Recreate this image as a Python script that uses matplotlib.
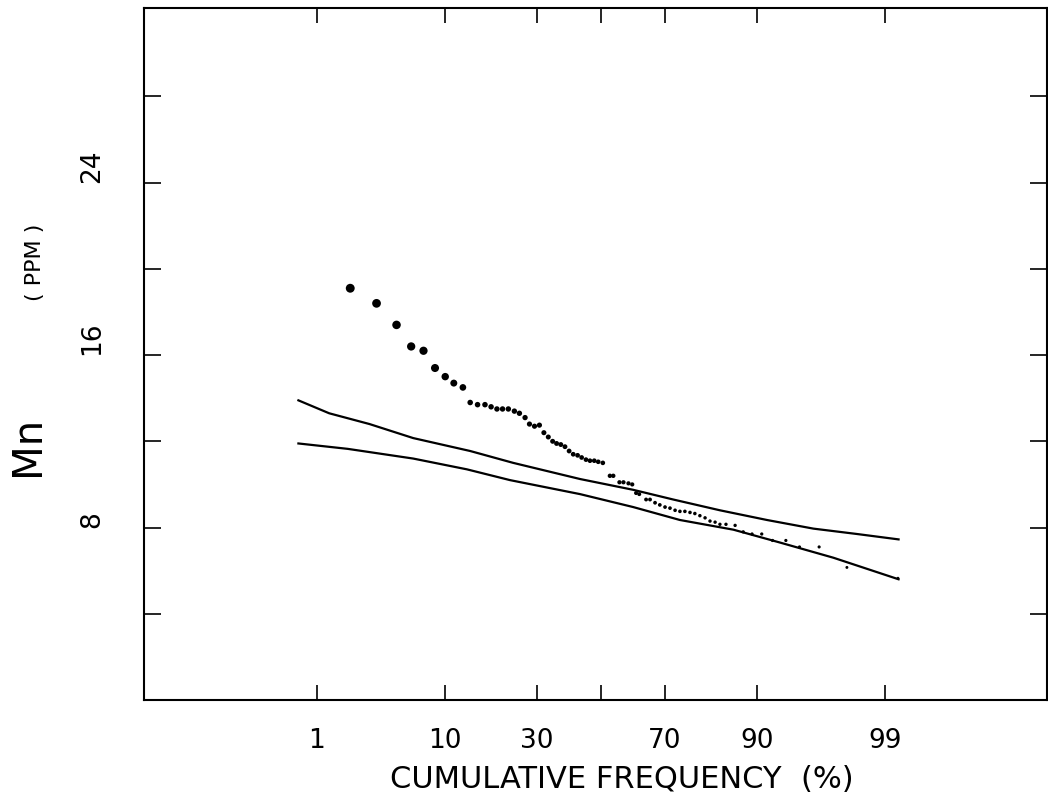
from statistics import NormalDist
import numpy as np
import matplotlib
matplotlib.use("Agg")
import matplotlib.pyplot as plt

# cumulative frequency (%) and Mn (ppm) of the plotted samples
cum_freq = [2.0, 3.3, 4.7, 6.0, 7.3, 8.7, 10.1, 11.4, 12.9, 14.2,
            15.6, 17.1, 18.4, 19.7, 21.0, 22.4, 23.9, 25.2, 26.7, 27.9,
            29.3, 30.7, 32.0, 33.3, 34.6, 35.8, 37.1, 38.4, 39.7, 41.0,
            42.4, 43.7, 45.1, 46.4, 47.8, 49.1, 50.6, 52.9, 54.0, 56.0,
            57.3, 58.9, 60.1, 61.3, 62.3, 64.4, 65.6, 67.1, 68.5, 70.0,
            71.4, 72.8, 74.1, 75.4, 76.7, 77.9, 79.1, 80.3, 81.4, 82.5,
            83.5, 84.7, 86.4, 87.8, 89.2, 90.6, 92.0, 93.5, 94.8, 96.3,
            97.8, 99.25]
mn_ppm = [19.1, 18.4, 17.4, 16.4, 16.2, 15.4, 15.0, 14.7, 14.5, 13.8,
          13.7, 13.7, 13.6, 13.5, 13.5, 13.5, 13.4, 13.3, 13.1, 12.8,
          12.7, 12.75, 12.4, 12.2, 12.0, 11.9, 11.85, 11.75, 11.55, 11.4,
          11.35, 11.25, 11.15, 11.1, 11.1, 11.05, 11.0, 10.4, 10.4, 10.1,
          10.1, 10.05, 10.0, 9.6, 9.55, 9.3, 9.3, 9.15, 9.05, 8.95,
          8.9, 8.8, 8.75, 8.75, 8.7, 8.65, 8.55, 8.45, 8.3, 8.25,
          8.15, 8.15, 8.1, 7.8, 7.7, 7.7, 7.4, 7.4, 7.1, 7.1,
          6.15, 5.65]

# the two reference curves
upper_freq = [0.66, 1.3, 2.9, 6.2, 14.2, 23.6, 43.2, 60.4, 72.3, 83.5, 91.3, 95.9, 98.2, 99.26]
upper_ppm = [13.9, 13.3, 12.8, 12.15, 11.55, 11.0, 10.25, 9.75, 9.3, 8.8, 8.35, 7.95, 7.7, 7.45]
lower_freq = [0.66, 1.9, 6.2, 13.6, 22.8, 43.2, 60.4, 74.1, 86.1, 92.9, 97.15, 99.26]
lower_ppm = [11.9, 11.65, 11.2, 10.7, 10.2, 9.55, 8.95, 8.35, 7.9, 7.3, 6.6, 5.6]

freq_ticks = [1, 10, 30, 50, 70, 90, 99]
freq_labels = ['1', '10', '30', '', '70', '90', '99']
ppm_ticks = [4, 8, 12, 16, 20, 24, 28]
ppm_labels = ['', '8', '', '16', '', '24', '']


def probit(pct):
    # probability-paper position of a cumulative frequency in %
    nd = NormalDist()
    return np.array([nd.inv_cdf(p / 100.0) for p in pct])


W, H = 1048, 794
fig = plt.figure(figsize=(W / 100, H / 100), dpi=100)
ax = fig.add_axes([144 / W, 1 - 700 / H, (1047 - 144) / W, (700 - 8) / H])

ax.plot(probit(upper_freq), upper_ppm, color='black', lw=1.6)
ax.plot(probit(lower_freq), lower_ppm, color='black', lw=1.6)

# dot size shrinks with the value, as on the original plot
vals = np.array(mn_ppm)
diam = np.interp(vals, [5.5, 8.5, 10.5, 13.8, 14.5, 15.4, 19.0],
                 [2.0, 2.5, 3.2, 4.0, 4.8, 5.8, 6.4])
ax.scatter(probit(cum_freq), vals, s=diam ** 2, color='black', linewidths=0, zorder=3)

ax.set_xlim(-3.743, 3.653)
ax.set_ylim(0, 32.1)

ax.set_xticks(probit(freq_ticks))
ax.set_xticklabels(freq_labels, fontsize=19)
ax.set_yticks(ppm_ticks)
ax.set_yticklabels(ppm_labels, fontsize=19, rotation=90, va='bottom', ha='center')

ax.tick_params(axis='x', direction='in', top=True, bottom=True, length=10.5, width=1.2, pad=20)
ax.tick_params(axis='y', direction='in', left=True, right=True, length=12.5, width=1.2, pad=37)
for sp in ax.spines.values():
    sp.set_linewidth(1.5)

fig.text(622 / W, 1 - 780 / H, 'CUMULATIVE FREQUENCY  (%)', fontsize=22, ha='center', va='center')
fig.text(28 / W, 1 - 446 / H, 'Mn', fontsize=29, rotation=90, ha='center', va='center')
fig.text(35 / W, 1 - 262 / H, '( PPM )', fontsize=16, rotation=90, ha='center', va='center')

fig.savefig('out.png', dpi=100)
